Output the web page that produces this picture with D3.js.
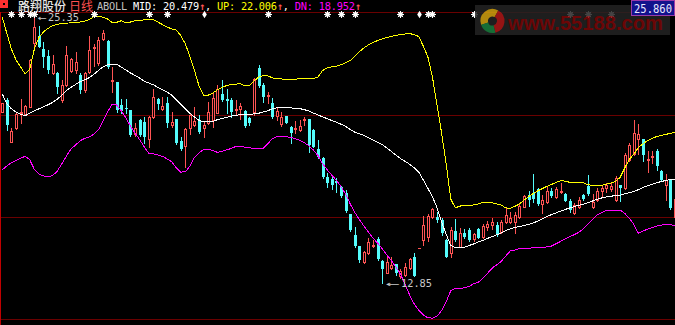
<!DOCTYPE html>
<html>
<head>
<meta charset="utf-8">
<script src="https://cdn.jsdelivr.net/npm/d3@7"></script>
<style>
body{margin:0;background:#000;overflow:hidden}
svg{display:block}
</style>
</head>
<body>
<script>
"use strict";

// daily candles, oldest first
const open = [20.88,21.43,19.47,20.10,20.77,20.77,21.12,24.12,24.43,23.81,
23.49,22.68,22.71,21.43,22.13,22.80,22.84,22.60,21.90,22.76,
23.82,23.15,24.28,24.21,22.29,22.29,21.20,21.07,20.96,19.84,
20.49,20.41,19.59,20.62,21.46,20.99,21.30,20.26,20.54,19.52,
19.27,20.10,20.24,20.49,20.10,20.34,20.49,20.83,21.71,21.46,
21.43,20.91,21.02,20.93,20.57,20.88,22.92,22.13,21.59,21.30,
20.68,20.32,20.68,20.16,20.02,20.02,20.47,20.53,20.02,19.12,
18.71,17.83,17.71,17.65,17.34,17.08,16.08,15.10,14.58,13.85,
14.24,14.55,14.90,13.89,13.33,13.54,13.74,13.18,13.22,13.54,
14.05,14.50,14.86,15.02,15.93,15.96,15.80,14.86,14.24,15.30,
14.55,15.18,15.33,14.90,15.36,15.02,15.50,15.59,15.59,15.25,
15.71,15.72,15.72,15.93,16.43,16.97,17.05,17.24,16.55,16.66,
17.16,16.87,17.09,17.02,16.71,16.15,16.40,16.97,17.40,16.43,
16.74,17.15,17.30,17.24,16.74,17.44,17.29,18.62,18.90,19.59,
19.59,18.58,18.70,19.05,18.11,17.44,17.68,15.96];

const high = [21.30,21.52,20.10,20.88,21.46,21.20,23.34,25.35,24.90,24.16,
23.77,23.54,22.74,22.37,23.96,23.39,23.70,22.71,22.76,24.43,
24.06,24.40,24.71,24.23,22.96,22.30,21.46,21.46,20.97,20.37,
20.53,20.65,20.68,21.93,21.51,21.56,21.56,20.88,20.56,19.71,
20.10,20.77,21.12,20.73,20.41,21.35,21.74,22.13,22.37,21.93,
21.51,21.43,21.28,20.95,20.65,22.45,23.07,22.21,21.82,21.51,
21.12,20.88,20.70,20.21,20.45,20.49,20.65,20.55,20.08,19.55,
18.77,18.02,17.82,17.76,17.40,17.21,16.10,15.49,14.60,14.36,
14.94,14.86,15.02,13.91,14.08,14.08,13.76,13.49,13.80,14.01,
14.24,14.50,15.99,16.08,16.35,16.19,15.88,14.91,15.46,15.83,
15.41,15.37,15.41,15.21,15.41,15.61,15.78,15.88,15.72,15.80,
16.36,16.19,16.19,16.59,16.97,17.16,17.96,17.29,16.97,17.34,
17.29,17.34,17.55,17.05,16.77,16.59,16.90,17.02,17.91,17.02,
17.29,17.40,17.55,17.52,17.87,17.46,18.96,19.40,20.49,20.30,
19.61,19.04,19.05,19.12,18.13,17.96,17.71,16.97];

const low = [20.85,20.02,19.45,20.06,20.34,20.73,21.09,23.93,23.90,22.99,
22.68,22.65,21.77,21.35,22.09,22.76,22.68,21.74,21.82,22.71,
23.02,23.07,24.24,22.92,21.82,20.88,20.83,20.81,19.74,19.74,
19.74,19.43,19.24,20.57,20.99,20.96,20.18,20.18,19.37,19.09,
18.30,19.84,20.21,19.90,19.71,20.30,20.18,20.81,21.40,20.81,
20.65,20.73,20.53,20.19,20.26,20.73,22.05,21.35,21.28,20.57,
20.49,20.21,20.35,19.43,19.88,19.99,20.26,19.01,19.22,18.70,
17.77,17.35,17.26,17.13,16.87,16.19,15.30,14.55,13.85,13.77,
14.21,14.52,13.95,12.85,13.30,13.49,13.22,13.07,13.18,13.49,
13.16,14.50,14.63,14.83,15.88,15.72,15.10,14.05,14.05,14.83,
14.52,14.94,14.83,14.83,14.94,14.94,15.33,15.37,15.05,15.21,
15.65,15.65,15.18,15.88,16.40,16.46,16.66,16.50,16.12,16.61,
16.87,16.82,17.07,16.68,16.19,16.08,16.36,16.74,16.97,16.35,
16.71,16.89,17.13,17.18,16.71,16.71,17.24,18.58,18.85,18.90,
18.58,18.07,18.49,18.15,17.66,16.74,16.33,15.90];

const close = [21.28,20.26,19.99,20.77,20.88,21.15,23.31,24.87,23.93,23.46,
22.84,23.12,22.05,22.13,23.54,23.34,23.20,21.90,22.71,23.77,
23.90,24.24,24.56,22.99,22.37,20.96,20.91,20.99,19.79,20.10,
19.79,19.71,20.62,21.56,21.24,21.15,20.34,20.41,19.40,19.12,
20.07,20.73,20.46,19.94,20.26,20.88,21.51,21.93,21.43,21.37,
20.88,21.01,21.15,20.21,20.34,22.40,22.09,21.56,21.66,20.65,
20.91,20.65,20.37,19.90,20.12,20.21,20.56,19.32,19.24,18.74,
17.80,17.54,17.44,17.52,16.93,16.24,15.33,14.58,13.93,14.31,
14.78,14.63,13.96,13.49,13.85,13.69,13.30,13.42,13.61,13.96,
13.18,14.50,15.57,15.99,16.30,15.80,15.18,14.08,15.33,14.86,
15.21,14.99,14.86,15.15,14.98,15.52,15.64,15.72,15.12,15.72,
16.04,15.88,16.04,16.46,16.93,16.74,16.79,16.55,16.76,17.16,
16.95,17.24,17.18,16.71,16.27,16.50,16.74,16.77,17.02,16.66,
17.18,17.29,17.44,17.40,17.77,17.30,18.85,19.32,19.87,19.84,
18.85,18.65,18.80,18.33,17.68,17.68,16.35,16.77];

// ABOLL bands as drawn
const mid = [21.71,21.26,21.02,20.87,20.76,20.69,20.82,20.93,21.02,21.11,
21.21,21.32,21.47,21.66,21.87,22.03,22.16,22.29,22.38,22.48,
22.64,22.82,22.99,23.08,23.12,23.11,22.98,22.84,22.70,22.59,
22.46,22.32,22.23,22.15,22.03,21.92,21.81,21.67,21.45,21.23,
21.02,20.81,20.63,20.48,20.41,20.41,20.43,20.51,20.56,20.62,
20.67,20.72,20.74,20.76,20.75,20.78,20.81,20.87,20.93,21.02,
21.07,21.07,21.07,21.06,21.05,21.03,20.98,20.92,20.82,20.73,
20.64,20.56,20.47,20.39,20.30,20.20,20.05,19.93,19.85,19.78,
19.67,19.56,19.46,19.35,19.19,19.02,18.85,18.69,18.56,18.42,
18.26,18.05,17.68,17.29,16.90,16.38,15.71,15.13,14.61,14.51,
14.51,14.53,14.61,14.68,14.77,14.85,14.94,15.02,15.11,15.19,
15.31,15.39,15.46,15.50,15.54,15.60,15.67,15.75,15.85,15.96,
16.06,16.14,16.22,16.30,16.37,16.44,16.49,16.55,16.61,16.70,
16.78,16.84,16.89,16.92,16.95,16.97,17.03,17.08,17.14,17.23,
17.33,17.41,17.48,17.55,17.61,17.66,17.71,17.72];

const up = [25.32,24.55,23.82,23.31,22.98,22.65,22.88,23.82,24.36,24.63,
24.79,24.93,24.98,25.02,25.04,25.05,25.06,25.09,25.13,25.21,
25.34,25.36,25.32,25.23,25.07,25.08,25.15,25.04,25.09,25.15,
25.17,25.19,25.20,25.21,25.09,24.97,24.86,24.77,24.72,24.46,
24.06,23.47,22.81,22.09,21.66,21.66,21.76,21.91,22.02,22.11,
22.16,22.18,22.19,22.11,22.11,22.32,22.50,22.57,22.56,22.48,
22.42,22.42,22.41,22.40,22.41,22.43,22.44,22.44,22.45,22.51,
22.82,22.94,22.99,23.02,23.09,23.17,23.28,23.48,23.69,23.87,
24.02,24.13,24.22,24.30,24.36,24.42,24.47,24.50,24.53,24.55,
24.50,24.41,23.96,23.45,22.51,21.20,19.88,18.43,16.79,16.37,
16.46,16.47,16.49,16.51,16.56,16.62,16.62,16.62,16.56,16.51,
16.37,16.36,16.44,16.56,16.73,16.90,17.04,17.17,17.28,17.38,
17.47,17.57,17.65,17.63,17.57,17.56,17.55,17.55,17.45,17.44,
17.44,17.43,17.48,17.54,17.62,17.80,18.24,18.64,18.89,19.20,
19.38,19.53,19.63,19.72,19.77,19.82,19.87,19.92];

const dn = [18.16,18.34,18.49,18.60,18.71,18.79,18.63,18.18,17.96,17.87,
17.84,17.89,18.09,18.44,18.80,19.13,19.32,19.52,19.63,19.70,
19.83,20.03,20.46,20.87,21.24,21.20,20.92,20.60,20.21,19.88,
19.58,19.24,18.93,18.91,18.85,18.79,18.67,18.54,18.25,18.05,
18.07,18.33,18.74,18.96,19.12,19.12,19.06,18.98,19.03,19.09,
19.16,19.25,19.25,19.22,19.19,19.17,19.15,19.16,19.38,19.62,
19.71,19.71,19.71,19.68,19.62,19.55,19.43,19.29,19.08,18.82,
18.44,18.16,17.91,17.67,17.37,17.04,16.57,16.17,15.83,15.53,
15.24,14.96,14.72,14.46,14.18,13.90,13.60,13.27,12.79,12.29,
11.87,11.57,11.35,11.22,11.20,11.29,11.56,11.97,12.49,12.59,
12.60,12.62,12.69,12.81,12.88,13.06,13.30,13.54,13.70,13.86,
14.11,14.35,14.40,14.46,14.47,14.48,14.50,14.51,14.53,14.54,
14.58,14.69,14.80,14.91,15.02,15.12,15.23,15.40,15.63,15.84,
16.05,16.16,16.26,16.27,16.27,16.27,16.12,15.89,15.60,15.18,
15.28,15.38,15.45,15.52,15.56,15.61,15.59,15.52];

const gridPrices = [25.52, 20.71, 15.93, 11.14];
const topPrice = 25.86;
const markHigh = 25.35, markLow = 12.85;
// candles carrying a signal mark on the top row
const starIdx = [2,4,6,7,20,32,36,58,71,74,77,87,93,94,103,124,128,133];
const diamondIdx = [44,91];

const stockName = "路翔股份", period = "日线";
const headMid = 20.479, headUp = 22.006, headDn = 18.952;

const w = 675, h = 325;
const RED = "#ff5454", CYAN = "#54fcfc";

const svg = d3.select("body").append("svg")
  .attr("width", w).attr("height", h)
  .style("background", "#000");

const xScale = d3.scaleLinear().domain([0, open.length - 1]).range([2.3, 675]);
const yScale = d3.scaleLinear().domain([markLow, markHigh]).range([283, 16.5]);
const px = i => Math.round(xScale(i)) + 0.5;
const py = v => Math.round(yScale(v));

// grid
svg.selectAll("line.grid").data(gridPrices).enter().append("line")
  .attr("x1", 0).attr("x2", w)
  .attr("y1", d => Math.floor(yScale(d)) + 0.5)
  .attr("y2", d => Math.floor(yScale(d)) + 0.5)
  .attr("stroke", "#6a0000");
svg.append("line").attr("x1", 0.5).attr("x2", 0.5).attr("y1", 12).attr("y2", h)
  .attr("stroke", "#c00000");

const data = open.map((o, i) => ({i: i, o: o, h: high[i], l: low[i], c: close[i]}));

const candle = svg.append("g").selectAll("g").data(data).enter().append("g");
candle.append("line")
  .attr("x1", d => px(d.i)).attr("x2", d => px(d.i))
  .attr("y1", d => py(d.h)).attr("y2", d => py(d.l) + 1)
  .attr("stroke", d => d.c >= d.o ? RED : CYAN)
  .attr("shape-rendering", "crispEdges");

candle.each(function(d) {
  const g = d3.select(this);
  const top = py(Math.max(d.o, d.c)), bot = py(Math.min(d.o, d.c));
  if (d.c >= d.o) {
    if (bot - top < 3) {
      g.append("rect").attr("x", px(d.i) - 1.5).attr("y", top)
        .attr("width", 3).attr("height", Math.max(1, bot - top))
        .attr("fill", RED);
    } else {
      g.append("rect").attr("x", px(d.i) - 1).attr("y", top + 0.5)
        .attr("width", 2).attr("height", bot - top)
        .attr("fill", "#000").attr("stroke", RED);
    }
  } else {
    g.append("rect").attr("x", px(d.i) - 1.5).attr("y", top)
      .attr("width", 3).attr("height", Math.max(1, bot - top))
      .attr("fill", CYAN);
  }
});

// bands
const line = d3.line().x((d, i) => xScale(i)).y(d => yScale(d));
[[mid, "#ffffff"], [up, "#ffff00"], [dn, "#ff00ff"]].forEach(s => {
  svg.append("path").datum(s[0]).attr("d", line)
    .attr("fill", "none").attr("stroke", s[1]).attr("stroke-width", 1)
    .attr("shape-rendering", "crispEdges");
});

// hi / lo marks
const mono = "'DejaVu Sans Mono', monospace";
function markLabel(i, v, ty, arrowLen) {
  const x0 = px(i) + 3;
  const t = svg.append("text").attr("y", ty).attr("font-family", mono)
    .attr("font-size", 10.3).attr("fill", "#c8c8c8");
  t.append("tspan").attr("x", x0).text("←")
    .attr("textLength", arrowLen).attr("lengthAdjust", "spacingAndGlyphs");
  t.append("tspan").attr("x", x0 + arrowLen + 1.5).text(d3.format(".2f")(v));
}
markLabel(high.indexOf(markHigh), markHigh, 20.5, 9);
markLabel(low.indexOf(markLow), markLow, 286.5, 14);

// signal marks
const starPath = "M-3.5,0H3.5M0,-3.5V3.5M-2.6,-2.6L2.6,2.6M-2.6,2.6L2.6,-2.6";
starIdx.forEach(i => {
  const g = svg.append("g").attr("transform", "translate(" + px(i) + ",14.5)");
  g.append("circle").attr("r", 2.4).attr("fill", "#fff");
  g.append("path").attr("d", starPath).attr("stroke", "#fff").attr("fill", "none");
});
diamondIdx.forEach(i => {
  svg.append("path").attr("transform", "translate(" + px(i) + ",14.5)")
    .attr("d", "M0,-3.8L2.3,0L0,3.8L-2.3,0Z").attr("fill", "#fff");
});

// header
svg.append("rect").attr("x", 1.5).attr("y", 1.5).attr("width", 5).attr("height", 5)
  .attr("fill", "none").attr("stroke", "#ff3030").attr("stroke-width", 3);
svg.append("text").attr("x", 18).attr("y", 11)
  .attr("font-family", "'Noto Sans CJK SC', sans-serif").attr("font-size", 12)
  .attr("font-weight", 500)
  .attr("fill", "#e6e6e6").attr("textLength", 48).text(stockName);
svg.append("text").attr("x", 69).attr("y", 11)
  .attr("font-family", "'Noto Sans CJK SC', sans-serif").attr("font-size", 12)
  .attr("fill", "#ff5050").text(period);

const f3 = d3.format(".3f");
const head = svg.append("text").attr("x", 97).attr("y", 9.5)
  .attr("font-family", mono).attr("font-size", 10.3)
  .attr("textLength", 264).attr("lengthAdjust", "spacing");
[["ABOLL ", "#c0c0c0"], ["MID: " + f3(headMid), "#ffffff"], ["↑", RED], [", ", "#ffffff"],
 ["UP: " + f3(headUp), "#ffff00"], ["↑", RED], [", ", "#ffffff"],
 ["DN: " + f3(headDn), "#ff00ff"], ["↑", RED]].forEach(p => {
  const t = head.append("tspan").attr("fill", p[1]).text(p[0]);
  if (p[0] === "↑") t.attr("font-weight", "bold");
});

// watermark
const wm = svg.append("g").attr("opacity", 0.85);
wm.append("rect").attr("x", 475).attr("y", 5).attr("width", 195).attr("height", 30)
  .attr("fill", "#242424");
const arc = d3.arc().innerRadius(4.5).outerRadius(12);
[[-1.9, 0.5, "#d0a010"], [0.5, 2.9, "#b01818"], [2.9, 4.4, "#1a8040"]].forEach(a => {
  wm.append("path").attr("transform", "translate(492.5,21)")
    .attr("d", arc({startAngle: a[0], endAngle: a[1]})).attr("fill", a[2]);
});
wm.append("text").attr("x", 508).attr("y", 29.5)
  .attr("font-family", "'Liberation Sans', Arial, sans-serif").attr("font-weight", "bold")
  .attr("font-size", 21).attr("fill", "#7e0808")
  .attr("textLength", 155).attr("lengthAdjust", "spacingAndGlyphs")
  .text("www.55188.com");

// top price box
svg.append("rect").attr("x", 631.5).attr("y", 0.5).attr("width", 43).attr("height", 15)
  .attr("fill", "#12128c").attr("stroke", "#9a3aa8");
svg.append("text").attr("x", 634).attr("y", 13)
  .attr("font-family", mono).attr("font-size", 12).attr("fill", "#e8e8ff")
  .attr("textLength", 38).attr("lengthAdjust", "spacingAndGlyphs")
  .text(f3(topPrice));
</script>
</body>
</html>
